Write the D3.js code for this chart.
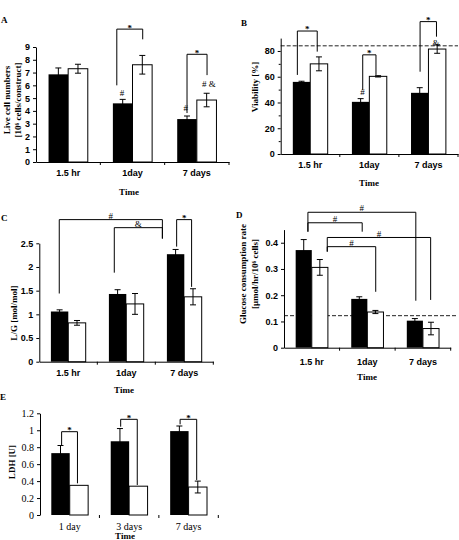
<!DOCTYPE html>
<html>
<head>
<meta charset="utf-8">
<script src="https://cdn.jsdelivr.net/npm/d3@7"></script>
<style>
    body { margin: 0; background: #fff; }
    svg { display: block; }
    .sans text { font-family: "Liberation Sans", Arial, sans-serif; font-weight: bold; font-size: 9px; }
    .serif text { font-family: "Liberation Serif", "Times New Roman", serif; font-size: 10px; }
    .title { font-family: "Liberation Serif", "Times New Roman", serif; font-weight: bold; font-size: 9px; }
    .mark { font-family: "Liberation Serif", "Times New Roman", serif; font-size: 9px; }
</style>
</head>
<body>
<div id="fig"></div>
<script>
// ---- data ----
// A: live cell numbers
var catsA = ["1.5 hr", "1day", "7 days"]
var blackA = [6.86, 4.59, 3.36]
var blackErrA = [0.5, 0.31, 0.24]
var whiteA = [7.3, 7.61, 4.85]
var whiteErrA = [0.35, 0.73, 0.53]
var ticksA = [0, 1, 2, 3, 4, 5, 6, 7, 8, 9]
var tickLabelsA = ["0", "1", "2", "3", "4", "5", "6", "7", "8", "9"]

// B: viability
var catsB = ["1.5 hr", "1day", "7 days"]
var blackB = [56, 40.5, 47.5]
var blackErrB = [0.5, 2.5, 4]
var whiteB = [70, 60.3, 81.5]
var whiteErrB = [5.4, 0.5, 3.3]
var ticksB = [0, 20, 40, 60, 80]
var tickLabelsB = ["0", "20", "40", "60", "80"]
var minorTicksB = [10, 30, 50, 70]
var dashB = 84

// C: L/G ratio
var catsC = ["1.5 hr", "1day", "7 days"]
var blackC = [1.06, 1.43, 2.27]
var blackErrC = [0.035, 0.09, 0.1]
var whiteC = [0.82, 1.22, 1.37]
var whiteErrC = [0.05, 0.22, 0.17]
var ticksC = [0, 0.5, 1, 1.5, 2, 2.5]
var tickLabelsC = ["0", "0.5", "1", "1.5", "2", "2.5"]

// D: glucose consumption rate
var catsD = ["1.5 hr", "1day", "7 days"]
var blackD = [0.372, 0.186, 0.103]
var blackErrD = [0.04, 0.008, 0.008]
var whiteD = [0.306, 0.136, 0.073]
var whiteErrD = [0.03, 0.006, 0.024]
var ticksD = [0, 0.1, 0.2, 0.3, 0.4]
var tickLabelsD = ["0", "0.1", "0.2", "0.3", "0.4"]
var dashD = 0.122

// E: LDH
var catsE = ["1 day", "3 days", "7 days"]
var blackE = [0.73, 0.87, 0.99]
var blackErrE = [0.09, 0.15, 0.06]
var whiteE = [0.35, 0.34, 0.33]
var whiteErrE = [0, 0, 0.07]
var ticksE = [0, 0.2, 0.4, 0.6, 0.8, 1, 1.2]
var tickLabelsE = ["0", "0.2", "0.4", "0.6", "0.8", "1", "1.2"]

// significance brackets: [catA, fracA, catB, fracB, level, endA, endB, label]
var bracketsA = [
    [1, 0.10, 1, 0.76, 10.4, 6.0, 9.6, "*"],
    [2, 0.25, 2, 0.76, 8.43, 3.83, 6.8, "*"]
]
var marksA = [[1, 0.23, 5.4, "#"], [2, 0.22, 4.23, "#"], [2, 0.81, 6.1, "# &"]]
var bracketsB = [
    [0, 0.13, 0, 0.70, 95.5, 61.4, 79.5, "*"],
    [1, 0.31, 1, 0.69, 77, 49.7, 61.4, "*"],
    [2, 0.26, 2, 0.73, 102.8, 63.9, 91.1, "*"]
]
var marksB = [[1, 0.3, 48.4, "#"], [2, 0.72, 86, "&"]]
var bracketsC = [
    [0, 0.24, 2, -0.13, 3.0, 1.44, 2.6, "#"],
    [1, 0.155, 2, -0.13, 2.83, 1.88, 2.6, "&"],
    [2, 0.28, 2, 0.71, 3.0, 2.43, 1.58, "*"]
]
var bracketsD = [
    [0, 0.38, 2, 0.28, 0.516, 0.442, 0.179, "#"],
    [0, 0.38, 1, 0.34, 0.476, 0.442, 0.442, "#"],
    [0, 0.98, 2, 0.74, 0.42, 0.366, 0.182, "#"],
    [0, 0.98, 1, 0.76, 0.385, 0.366, 0.213, "#"]
]
var bracketsE = [
    [0, 0.28, 0, 0.71, 0.983, 0.826, 0.374, "*"],
    [1, 0.27, 1, 0.72, 1.129, 1.042, 0.354, "*"],
    [2, 0.27, 2, 0.72, 1.129, 1.07, 0.413, "*"]
]

var svg = d3.select('#fig')
    .append('svg')
    .attr('width', 459)
    .attr('height', 540)

function drawPanel(p) {
    var g = svg.append('g')

    var x = d3.scaleBand()
        .domain(p.cats)
        .range([p.x0, p.x1])
        .paddingInner(p.pad)
        .paddingOuter(p.pad / 2)
    var y = d3.scaleLinear()
        .domain(p.domain)
        .range([p.y0, p.y1])
    var bw = x.bandwidth() / 2
    var at = function(i, f) { return x(p.cats[i]) + f * x.bandwidth() }

    // dashed reference line
    if (p.dash != null) {
        g.append('line')
            .attr('x1', p.x0).attr('x2', 458)
            .attr('y1', y(p.dash)).attr('y2', y(p.dash))
            .attr('stroke', '#222').attr('stroke-width', 1)
            .attr('stroke-dasharray', '4,2')
    }

    // y axis
    var yAxis = d3.axisLeft(y)
        .tickValues(p.ticks)
        .tickFormat(function(d, i) { return p.tickLabels[i] })
        .tickSize(3)
        .tickSizeOuter(0)
    g.append('g')
        .attr('class', p.serifTicks ? 'serif' : 'sans')
        .attr('transform', 'translate(' + p.x0 + ',0)')
        .call(yAxis)
    if (p.minor) {
        g.append('g')
            .attr('transform', 'translate(' + p.x0 + ',0)')
            .call(d3.axisLeft(y).tickValues(p.minor).tickFormat('').tickSize(2).tickSizeOuter(0))
            .select('.domain').remove()
    }

    // x axis: labels at band centres, ticks at band edges
    var xa = g.append('g')
        .attr('class', p.serifTicks ? 'serif' : 'sans')
        .attr('transform', 'translate(0,' + p.y0 + ')')
        .call(d3.axisBottom(x).tickSize(0).tickPadding(p.xPad).tickSizeOuter(0))
    if (p.noXLine) xa.select('.domain').remove()
    var edges = p.cats.map(function(c) { return x(c) + x.bandwidth() + x.step() * p.pad / 2 })
    g.selectAll('line.xt')
        .data(edges)
        .enter().append('line')
        .attr('class', 'xt')
        .attr('x1', function(d) { return d }).attr('x2', function(d) { return d })
        .attr('y1', p.y0).attr('y2', p.y0 + 3)
        .attr('stroke', '#000')

    // bars
    var rows = p.cats.map(function(c, i) {
        return { c: c, b: p.black[i], be: p.blackErr[i], w: p.white[i], we: p.whiteErr[i] }
    })
    g.selectAll('rect.black')
        .data(rows)
        .enter().append('rect')
        .attr('class', 'black')
        .attr('x', function(d) { return x(d.c) })
        .attr('width', bw)
        .attr('y', function(d) { return y(d.b) })
        .attr('height', function(d) { return y(0) - y(d.b) })
        .attr('fill', '#000')
    g.selectAll('rect.white')
        .data(rows)
        .enter().append('rect')
        .attr('class', 'white')
        .attr('x', function(d) { return x(d.c) + bw })
        .attr('width', bw)
        .attr('y', function(d) { return y(d.w) })
        .attr('height', function(d) { return y(0) - y(d.w) })
        .attr('fill', '#fff')
        .attr('stroke', '#000')
        .attr('stroke-width', 1)

    // error bars
    var errs = []
    rows.forEach(function(d) {
        errs.push({ cx: x(d.c) + bw / 2, v: d.b, e: d.be })
        errs.push({ cx: x(d.c) + bw * 1.5, v: d.w, e: d.we })
    })
    errs = errs.filter(function(d) { return d.e > 0 })
    var eg = g.selectAll('g.err')
        .data(errs)
        .enter().append('g')
        .attr('class', 'err')
        .attr('stroke', '#000')
        .attr('stroke-width', 1)
    eg.append('line')
        .attr('x1', function(d) { return d.cx }).attr('x2', function(d) { return d.cx })
        .attr('y1', function(d) { return y(d.v - d.e) }).attr('y2', function(d) { return y(d.v + d.e) })
    eg.append('line')
        .attr('x1', function(d) { return d.cx - 3 }).attr('x2', function(d) { return d.cx + 3 })
        .attr('y1', function(d) { return y(d.v + d.e) }).attr('y2', function(d) { return y(d.v + d.e) })
    eg.append('line')
        .attr('x1', function(d) { return d.cx - 3 }).attr('x2', function(d) { return d.cx + 3 })
        .attr('y1', function(d) { return y(d.v - d.e) }).attr('y2', function(d) { return y(d.v - d.e) })

    // brackets
    var br = g.selectAll('g.br')
        .data(p.brackets || [])
        .enter().append('g')
        .attr('class', 'br')
    br.append('path')
        .attr('d', function(d) {
            var xa = at(d[0], d[1]), xb = at(d[2], d[3])
            return 'M' + xa + ',' + y(d[5]) + 'V' + y(d[4]) + 'H' + xb + 'V' + y(d[6])
        })
        .attr('fill', 'none')
        .attr('stroke', '#000')
        .attr('stroke-width', 1)
    br.append('text')
        .attr('class', 'mark')
        .attr('x', function(d) { return (at(d[0], d[1]) + at(d[2], d[3])) / 2 })
        .attr('y', function(d) { return y(d[4]) - 4 })
        .attr('dy', function(d) { return d[7] == '*' ? '0.6em' : '0.35em' })
        .attr('text-anchor', 'middle')
        .style('font-weight', function(d) { return d[7] == '*' ? 'bold' : 'normal' })
        .text(function(d) { return d[7] })

    // single significance marks
    g.selectAll('text.pm')
        .data(p.marks || [])
        .enter().append('text')
        .attr('class', 'mark pm')
        .attr('x', function(d) { return at(d[0], d[1]) })
        .attr('y', function(d) { return y(d[2]) })
        .attr('dy', '0.35em')
        .attr('text-anchor', 'middle')
        .text(function(d) { return d[3] })

    // y title
    p.yTitle.forEach(function(t, i) {
        g.append('text')
            .attr('class', 'title')
            .attr('transform', 'translate(' + p.yTitleX[i] + ',' + p.yTitleY + ') rotate(-90)')
            .attr('text-anchor', 'middle')
            .text(t)
    })

    // x title
    g.append('text')
        .attr('class', 'title')
        .attr('x', p.timeX)
        .attr('y', p.timeY)
        .attr('text-anchor', 'middle')
        .text('Time')

    // panel letter
    g.append('text')
        .attr('class', 'title')
        .attr('x', p.letterX)
        .attr('y', p.letterY)
        .text(p.letter)
}

drawPanel({
    letter: 'A', letterX: 1, letterY: 23,
    cats: catsA, black: blackA, blackErr: blackErrA, white: whiteA, whiteErr: whiteErrA,
    domain: [0, 9], ticks: ticksA, tickLabels: tickLabelsA,
    x0: 36, x1: 229, y0: 162, y1: 47, pad: 0.39, xPad: 8,
    brackets: bracketsA, marks: marksA,
    yTitle: ["Live cell numbers", "[10\u2076 cells/construct]"], yTitleX: [10, 21], yTitleY: 100,
    timeX: 129, timeY: 195
})

drawPanel({
    letter: 'B', letterX: 241, letterY: 26,
    cats: catsB, black: blackB, blackErr: blackErrB, white: whiteB, whiteErr: whiteErrB,
    domain: [0, 90], ticks: ticksB, tickLabels: tickLabelsB, minor: minorTicksB,
    x0: 280.7, x1: 458, y0: 154, y1: 38.1, pad: 0.41, xPad: 8,
    brackets: bracketsB, marks: marksB, dash: dashB,
    yTitle: ["Viability [%]"], yTitleX: [257.5], yTitleY: 87,
    timeX: 369, timeY: 186
})

drawPanel({
    letter: 'C', letterX: 1, letterY: 221,
    cats: catsC, black: blackC, blackErr: blackErrC, white: whiteC, whiteErr: whiteErrC,
    domain: [0, 2.5], ticks: ticksC, tickLabels: tickLabelsC,
    x0: 39.3, x1: 213.3, y0: 361.7, y1: 243.3, pad: 0.4, xPad: 8,
    brackets: bracketsC,
    yTitle: ["L/G [mol/mol]"], yTitleX: [17], yTitleY: 313,
    timeX: 124, timeY: 393
})

drawPanel({
    letter: 'D', letterX: 236, letterY: 218,
    cats: catsD, black: blackD, blackErr: blackErrD, white: whiteD, whiteErr: whiteErrD,
    domain: [0, 0.45], ticks: ticksD, tickLabels: tickLabelsD,
    x0: 284, x1: 450.7, y0: 347.7, y1: 229.6, pad: 0.42, xPad: 11,
    brackets: bracketsD, dash: dashD,
    yTitle: ["Glucose consumption rate", "[\u03bcmol/hr/10\u2076 cells]"], yTitleX: [246, 257.5], yTitleY: 274,
    timeX: 367, timeY: 380
})

drawPanel({
    letter: 'E', letterX: 0, letterY: 400,
    cats: catsE, black: blackE, blackErr: blackErrE, white: whiteE, whiteErr: whiteErrE,
    domain: [0, 1.2], ticks: ticksE, tickLabels: tickLabelsE, serifTicks: true, noXLine: true,
    x0: 40, x1: 218.3, y0: 515, y1: 413.3, pad: 0.38, xPad: 8,
    brackets: bracketsE,
    yTitle: ["LDH [U]"], yTitleX: [15], yTitleY: 462,
    timeX: 125, timeY: 539
})
</script>
</body>
</html>
